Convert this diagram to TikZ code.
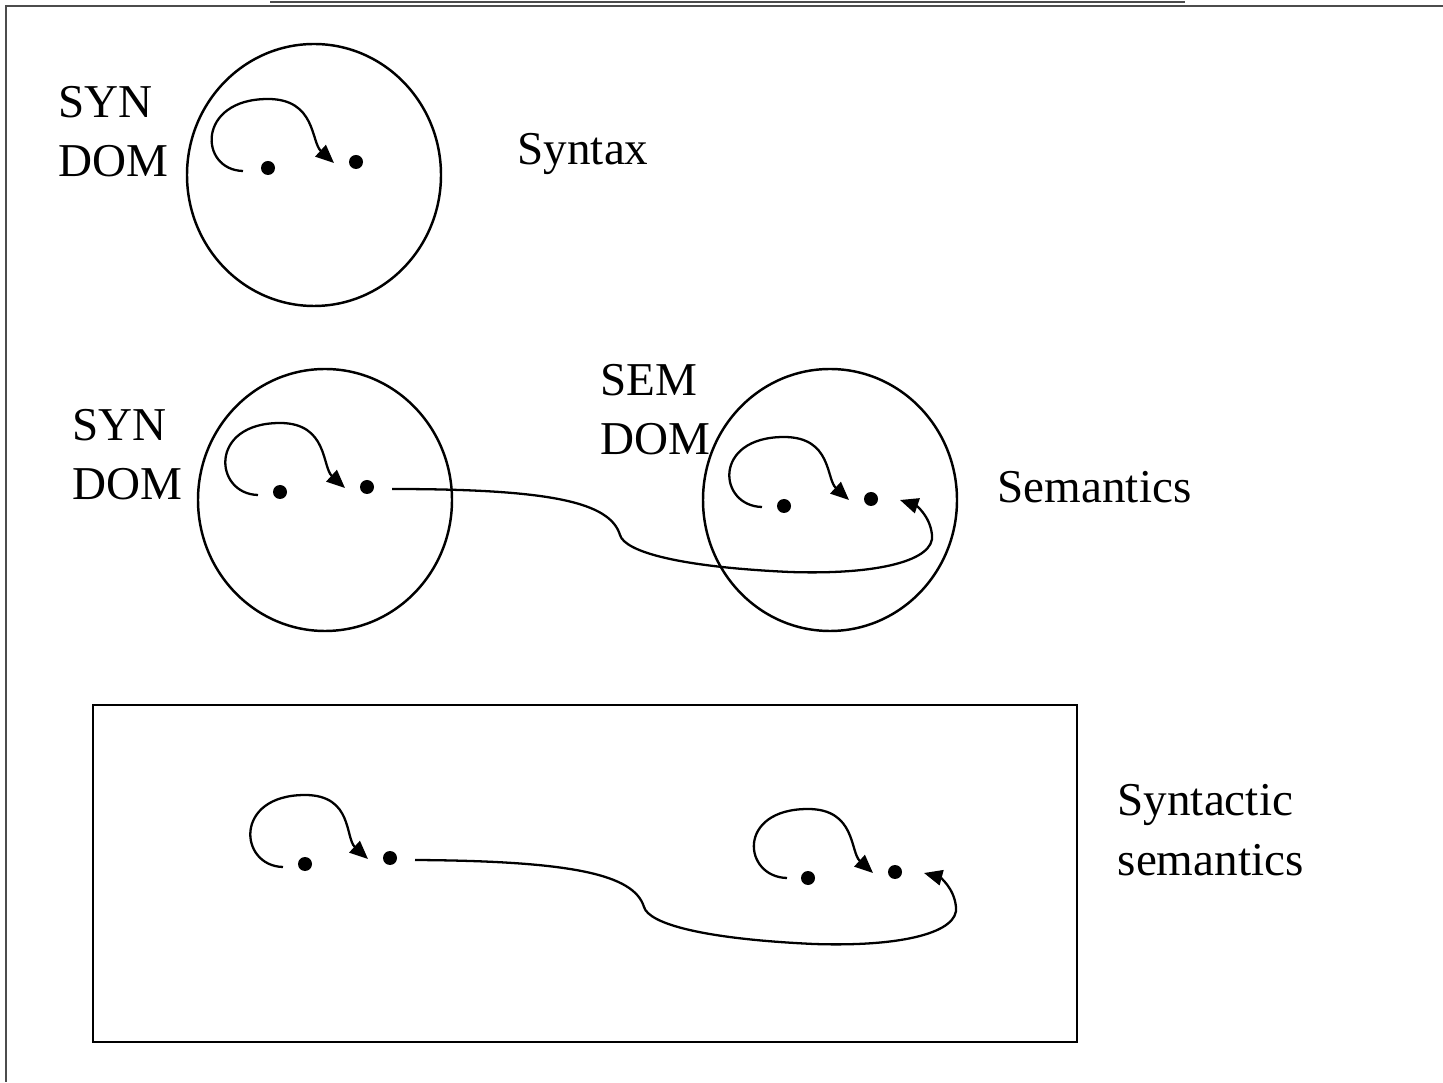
\documentclass[tikz,border=0pt]{standalone}
\usepackage{fontspec}
\setmainfont{Liberation Serif}
\usepackage{tikz}
\usetikzlibrary{positioning, shapes.geometric, arrows.meta}
\tikzset{
    dom/.style={
        draw, ellipse,
        minimum width = 2.54cm,
        minimum height = 2.62cm,
        line width = 0.7pt
    },
    dot/.style = {circle, fill, inner sep=0pt, minimum size=0.14cm},
    lbl/.style = {align = left, inner sep=0pt, font = \fontsize{13.4}{16.8}\selectfont},
    line/.style = {-{Triangle[length=5.2pt,width=4.4pt]}, line width=0.65pt}
}

\begin{document}
\begin{tikzpicture}
    \useasboundingbox (0,0) rectangle (14.43,10.82);

    % Page frame
    \draw[black!70, line width=0.6pt] (2.70,10.80) -- (11.85,10.80);
    \draw[black!70, line width=0.7pt] (14.43,10.76) -- (0.06,10.76) -- (0.06,0);

    % Syntax
    \node[dom] (syn1) at (3.14,9.07) {};
    \node[lbl, anchor=base west] (synlbl1) at (0.58,9.05) {SYN\\DOM};
    \node[lbl, anchor=base west] (syntax) at (5.17,9.17) {Syntax};
    \node[dot] (a1) at (2.68,9.14) {};
    \node[dot] (b1) at (3.56,9.20) {};
    \coordinate (s1) at ([shift={(-0.25,-0.03)}]a1.center);
    \draw[line] (s1) .. controls +(-0.44,0.01) and +(-0.72,0) .. ([yshift=0.69cm]a1.center)
        .. controls +(0.48,0) and +(-0.23,0.21) .. ([shift={(-0.22,-0.01)}]b1.center);

    % Semantics
    \node[dom] (syn2) at (3.25,5.82) {};
    \node[dom] (sem2) at (8.30,5.82) {};
    \node[lbl, anchor=base west] (synlbl2) at (0.72,5.82) {SYN\\DOM};
    \node[lbl, anchor=base west] (semlbl2) at (6.00,6.27) {SEM\\DOM};
    \node[lbl, anchor=base west] (semantics) at (9.97,5.79) {Semantics};
    \node[dot] (a2) at (2.80,5.90) {};
    \node[dot] (b2) at (3.67,5.95) {};
    \node[dot] (e2) at (7.84,5.76) {};
    \node[dot] (f2) at (8.71,5.83) {};
    \coordinate (s2) at ([shift={(-0.22,-0.03)}]a2.center);
    \coordinate (t2) at ([shift={(-0.22,-0.01)}]e2.center);
    \draw[line] (s2) .. controls +(-0.44,0.01) and +(-0.72,0) .. ([yshift=0.69cm]a2.center)
        .. controls +(0.48,0) and +(-0.23,0.21) .. ([shift={(-0.22,-0.01)}]b2.center);
    \draw[line] (t2) .. controls +(-0.44,0.01) and +(-0.72,0) .. ([yshift=0.69cm]e2.center)
        .. controls +(0.48,0) and +(-0.23,0.21) .. ([shift={(-0.22,-0.01)}]f2.center);
    \draw[line] ([shift={(0.25,-0.02)}]b2.center) .. controls (5.50,5.93) and (6.10,5.80) .. (6.20,5.47)
        .. controls (6.25,5.30) and (6.80,5.15) .. (7.90,5.10)
        .. controls (8.80,5.07) and (9.35,5.22) .. (9.32,5.47)
        .. controls (9.30,5.67) and (9.15,5.77) .. ([shift={(0.29,-0.01)}]f2.center);

    % Syntactic semantics
    \node[draw, line width=0.7pt, minimum width=9.84cm, minimum height=3.37cm] (frame) at (5.85,2.085) {};
    \node[lbl, anchor=base west] (synsem) at (11.17,2.07) {Syntactic\\semantics};
    \node[dot] (a3) at (3.05,2.18) {};
    \node[dot] (b3) at (3.90,2.24) {};
    \node[dot] (e3) at (8.08,2.04) {};
    \node[dot] (f3) at (8.95,2.10) {};
    \coordinate (s3) at ([shift={(-0.22,-0.03)}]a3.center);
    \coordinate (t3) at ([shift={(-0.21,0)}]e3.center);
    \draw[line] (s3) .. controls +(-0.44,0.01) and +(-0.72,0) .. ([yshift=0.69cm]a3.center)
        .. controls +(0.48,0) and +(-0.23,0.21) .. ([shift={(-0.22,-0.01)}]b3.center);
    \draw[line] (t3) .. controls +(-0.44,0.01) and +(-0.72,0) .. ([yshift=0.69cm]e3.center)
        .. controls +(0.48,0) and +(-0.23,0.21) .. ([shift={(-0.22,-0.01)}]f3.center);
    \draw[line] ([shift={(0.25,-0.02)}]b3.center) .. controls (5.70,2.21) and (6.34,2.08) .. (6.44,1.75)
        .. controls (6.49,1.58) and (7.04,1.43) .. (8.14,1.38)
        .. controls (9.04,1.35) and (9.59,1.50) .. (9.56,1.75)
        .. controls (9.54,1.95) and (9.39,2.05) .. ([shift={(0.29,-0.01)}]f3.center);

\end{tikzpicture}
\end{document}
